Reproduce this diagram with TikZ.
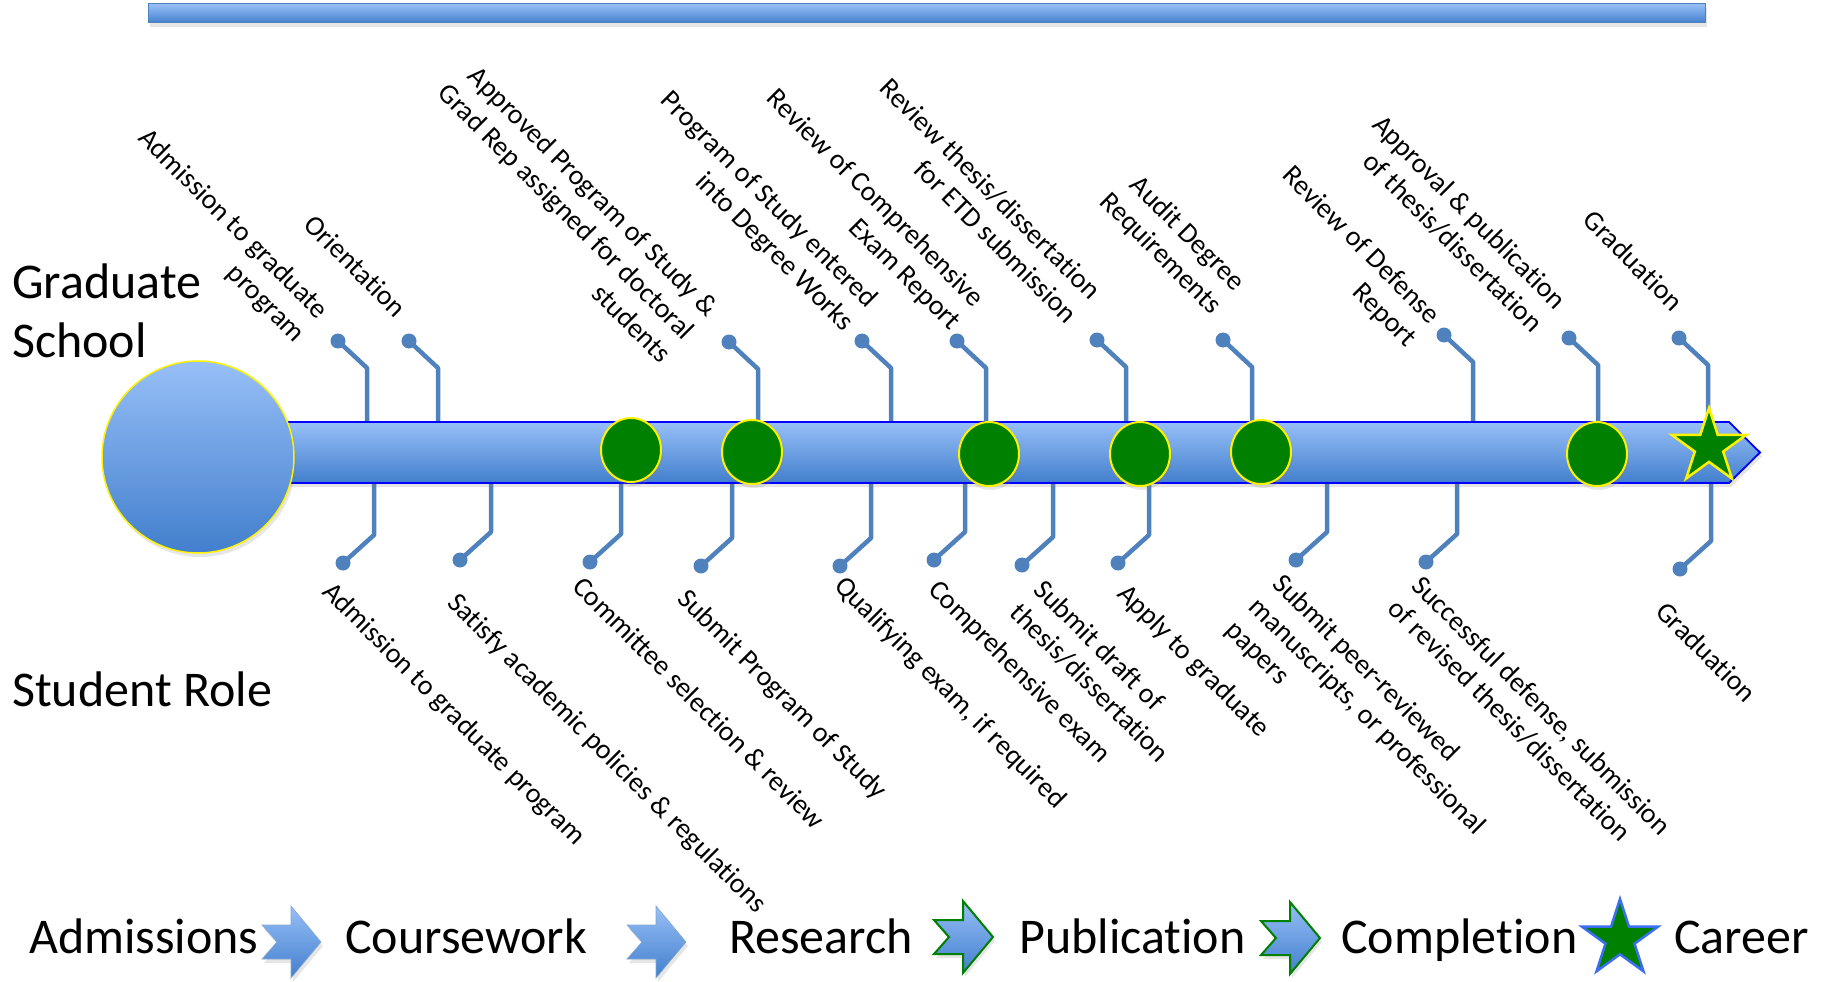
\documentclass[tikz,border=0pt]{standalone}
\usepackage{fontspec}
\setmainfont{Carlito}[Ligatures=NoCommon]
\usetikzlibrary{shapes.geometric,shadows}

\definecolor{barTop}{RGB}{151,191,247}
\definecolor{barBottom}{RGB}{66,127,205}
\definecolor{stemBlue}{RGB}{79,129,189}
\definecolor{mileGreen}{RGB}{0,128,0}
\definecolor{starEdge}{RGB}{60,110,240}

\tikzset{
  stem/.style={stemBlue, line width=4.5pt, line join=round},
  pin/.style={circle, fill=stemBlue, inner sep=0pt, minimum size=15pt},
  milestone/.style={ellipse, fill=mileGreen, draw=yellow, line width=2pt, minimum width=60pt, minimum height=64pt, inner sep=0pt},
  goal/.style={star, star points=5, star point ratio=2.618, fill=mileGreen, line width=2.5pt, inner sep=0pt, minimum size=78pt},
  gslabel/.style={rotate=-45, anchor=south east, align=right, inner sep=0pt, font=\fontsize{28}{33}\selectfont},
  srlabel/.style={rotate=-45, anchor=north west, align=left, inner sep=0pt, font=\fontsize{28}{33}\selectfont},
  heading/.style={anchor=base west, inner sep=0pt, font=\fontsize{50}{58}\selectfont},
  softshadow/.style={drop shadow={opacity=0.2, shadow xshift=2pt, shadow yshift=-4pt}}
}

\begin{document}
\begin{tikzpicture}[x=1pt, y=-1pt, line cap=round]
  \useasboundingbox (0,0) rectangle (1824,982);

  % top bar
  \shade[top color=barTop, bottom color=barBottom, draw=stemBlue, line width=1pt, softshadow] (148,4) rectangle (1705,23);

  % edges of the time line
  \coordinate (barN) at (0,422);
  \coordinate (barS) at (0,483);

  % Graduate School pins
  \foreach \n/\px/\py in {1/338/341, 2/409/341, 3/729/342, 4/862/341, 5/957/341,
                          6/1097/340, 7/1223/340, 8/1444/335, 9/1569/338, 10/1679/338} {
    \node[pin] (gs\n) at (\px,\py) {};
    \coordinate (gsb\n) at (\px+29,\py+27);
    \draw[stem] (gs\n.center) -- (gsb\n) -- (gsb\n |- barN);
  }

  % Student Role pins
  \foreach \n/\px/\py in {1/343/563, 2/460/560, 3/590/562, 4/701/566, 5/840/566, 6/934/560,
                          7/1022/565, 8/1118/563, 9/1296/560, 10/1426/562, 11/1680/569} {
    \node[pin] (sr\n) at (\px,\py) {};
    \coordinate (srb\n) at (\px+31,\py-28);
    \draw[stem] (sr\n.center) -- (srb\n) -- (srb\n |- barS);
  }

  % time line
  \shade[top color=barTop, bottom color=barBottom, draw=blue, line width=1.8pt, line cap=butt, softshadow]
    (280,422) -- (1729,422) -- (1760,452.5) -- (1729,483) -- (280,483) -- cycle;
  \node[circle, minimum size=192pt, inner sep=0pt, top color=barTop, bottom color=barBottom,
        draw=yellow, line width=1.5pt, softshadow] (start) at (198,457) {};

  % milestones
  \foreach \n/\mx/\my in {1/631/450, 2/752/452, 3/989/454, 4/1140/454, 5/1261/452, 6/1597/454}
    \node[milestone, softshadow] (ms\n) at (\mx,\my) {};
  \node[goal, draw=yellow] (finish) at (1709,447) {};

  % Graduate School labels
  \node[gslabel] (gsl1) at (291,347) {Admission to graduate\\program};
  \node[gslabel] (gsl2) at (395,319) {Orientation};
  \node[gslabel] (gsl3) at (660,365) {Approved Program of Study \&\\Grad Rep assigned for doctoral\\students};
  \node[gslabel] (gsl4) at (840,336) {Program of Study entered\\into Degree Works};
  \node[gslabel] (gsl5) at (947,335) {Review of Comprehensive\\Exam Report};
  \node[gslabel] (gsl6) at (1066,325) {Review thesis/dissertation\\for ETD submission};
  \node[gslabel] (gsl7) at (1208,319) {Audit Degree\\Requirements};
  \node[gslabel] (gsl8) at (1403,352) {Review of Defense\\Report};
  \node[gslabel] (gsl9) at (1531,335) {Approval \& publication\\of thesis/dissertation};
  \node[gslabel] (gsl10) at (1672,313) {Graduation};

  % Student Role labels
  \node[srlabel] (srl1) at (335,579) {Admission to graduate program};
  \node[srlabel] (srl2) at (460,590) {Satisfy academic policies \& regulations};
  \node[srlabel] (srl3) at (585,574) {Committee selection \& review};
  \node[srlabel] (srl4) at (690,586) {Submit Program of Study};
  \node[srlabel] (srl5) at (847,573) {Qualifying exam, if required};
  \node[srlabel] (srl6) at (941,577) {Comprehensive exam};
  \node[srlabel] (srl7) at (1046,577) {Submit draft of\\thesis/dissertation};
  \node[srlabel] (srl8) at (1130,581) {Apply to graduate};
  \node[srlabel] (srl9) at (1285,571) {Submit peer-reviewed\\manuscripts, or professional\\papers};
  \node[srlabel] (srl10) at (1424,573) {Successful defense, submission\\of revised thesis/dissertation};
  \node[srlabel] (srl11) at (1668,599) {Graduation};

  % row headings
  \node[heading] (gsHead) at (12,298) {Graduate};
  \node[heading] (gsHead2) at (12,357) {School};
  \node[heading] (srHead) at (12,706) {Student Role};

  % stages
  \node[heading] (admit) at (29,953) {Admissions};
  \node[heading] (course) at (345,953) {Coursework};
  \node[heading] (research) at (729,953) {Research};
  \node[heading] (publish) at (1019,953) {Publication};
  \node[heading] (complete) at (1341,953) {Completion};
  \node[heading] (career) at (1674,953) {Career};
  \foreach \ax/\ay/\edge/\lw in {262/942/stemBlue!70/0.6pt, 627/942/stemBlue!70/0.6pt, 934/937/mileGreen/2pt, 1261/938/mileGreen/2pt}
    \shade[top color=barTop, bottom color=barBottom, draw=\edge, line width=\lw, line join=miter, softshadow]
      (\ax,\ay-17) -- ++(29,0) -- ++(0,-19) -- (\ax+59,\ay) -- (\ax+29,\ay+36) -- ++(0,-19)
      -- (\ax,\ay+17) -- (\ax+15,\ay) -- cycle;
  \node[goal, draw=starEdge, minimum size=80pt] (careerStar) at (1620,939) {};
\end{tikzpicture}
\end{document}
